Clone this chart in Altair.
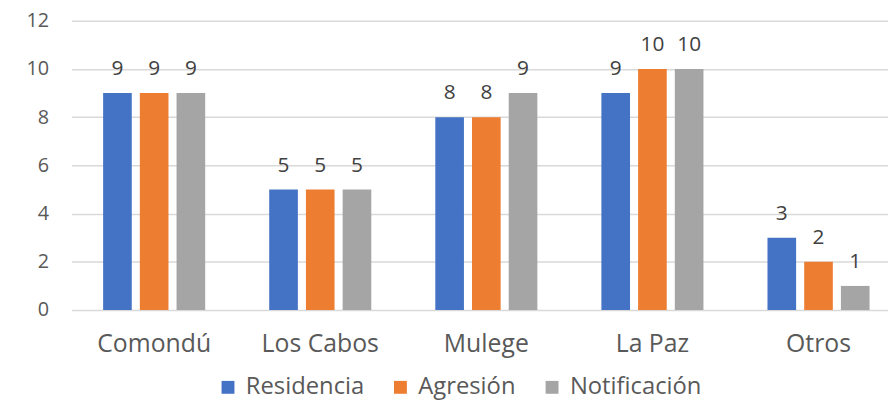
import altair as alt
import pandas as pd

categories = ["Comondú", "Los Cabos", "Mulege", "La Paz", "Otros"]
series = ["Residencia", "Agresión", "Notificación"]
residencia = [9, 5, 8, 9, 3]
agresion = [9, 5, 8, 10, 2]
notificacion = [9, 5, 9, 10, 1]
colors = ["#4472C4", "#ED7D31", "#A5A5A5"]

rows = []
for s, vals in zip(series, [residencia, agresion, notificacion]):
    for c, v in zip(categories, vals):
        rows.append({"cat": c, "serie": s, "valor": v})
df = pd.DataFrame(rows)

FONT = "Open Sans"
TXT = "#595959"

x = alt.X("cat:N", sort=categories, title=None,
          scale=alt.Scale(paddingInner=0.3855, paddingOuter=0.151, align=0.632),
          axis=alt.Axis(labelAngle=0, labelFont=FONT, labelFontSize=25, labelColor=TXT,
                        labelPadding=22, ticks=False, domain=False, grid=False))
xo = alt.XOffset("serie:N", sort=series, scale=alt.Scale(paddingInner=0.22))
y = alt.Y("valor:Q", title=None,
          scale=alt.Scale(domain=[0, 12]),
          axis=alt.Axis(values=[0, 2, 4, 6, 8, 10, 12], labelFont=FONT, labelFontSize=20,
                        labelColor=TXT, labelPadding=23, ticks=False, domain=False,
                        grid=True, gridColor="#D9D9D9", gridWidth=1.5))

bars = alt.Chart(df).mark_bar().encode(
    x=x, xOffset=xo, y=y,
    color=alt.Color("serie:N", sort=series,
                    scale=alt.Scale(domain=series, range=colors),
                    legend=alt.Legend(title=None, orient="none", direction="horizontal",
                                      legendX=146, legendY=358,
                                      symbolType="square", symbolSize=169,
                                      labelFont=FONT, labelFontSize=24, labelColor=TXT,
                                      columnPadding=24, labelOffset=6))
)

labels = alt.Chart(df).mark_text(font=FONT, fontSize=21, color="#404040", dy=-24).encode(
    x=alt.X("cat:N", sort=categories), xOffset=xo, y="valor:Q", text="valor:Q"
)

chart = (bars + labels).properties(
    width=824, height=292,
    autosize=alt.AutoSizeParams(type="none"),
    padding={"left": 64, "top": 11, "right": 0, "bottom": 90},
).configure_view(stroke=None)

chart.save("out.html", embed_options={"renderer": "svg", "actions": False})
